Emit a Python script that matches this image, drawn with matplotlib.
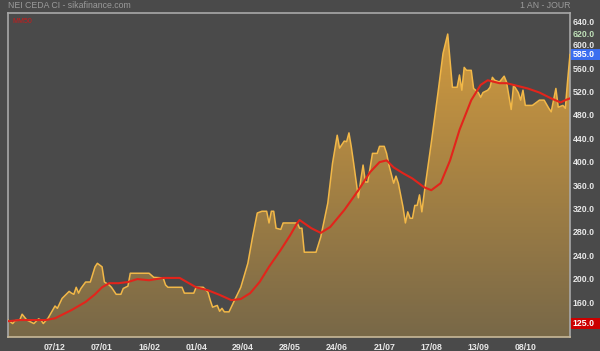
import matplotlib
matplotlib.use("Agg")
import matplotlib.pyplot as plt
from matplotlib.patches import Rectangle
import numpy as np

# price series (day index, value)
px_idx = [0, 2, 3, 5, 6, 8, 11, 13, 14, 15, 17, 20, 21, 23, 26, 27, 28, 29, 30, 31,
          33, 35, 37, 38, 40, 41, 43, 44, 46, 48, 49, 51, 52, 55, 60, 62, 66, 67, 68, 74,
          75, 79, 80, 83, 85, 86, 87, 89, 90, 91, 92, 94, 96, 99, 102, 104, 106, 108, 110, 111,
          112, 113, 114, 116, 117, 123, 124, 125, 126, 131, 133, 136, 138, 140, 141, 143, 144, 145, 146, 147,
          149, 150, 151, 152, 153, 155, 157, 158, 160, 161, 162, 164, 165, 166, 168, 169, 170, 171, 172, 173,
          174, 175, 176, 177, 180, 183, 185, 187, 189, 191, 192, 193, 194, 195, 197, 198, 200, 201, 202, 204,
          205, 206, 207, 209, 211, 212, 214, 215, 217, 218, 219, 220, 223, 226, 228, 230, 231, 233, 234, 236,
          237, 238, 239]
px_val = [131, 125, 130, 131, 141, 131, 125, 133, 131, 125, 134, 155, 151, 168, 180, 177, 175, 187, 177, 185,
          196, 196, 222, 228, 222, 196, 191, 187, 175, 175, 185, 189, 211, 211, 211, 204, 203, 191, 187, 187,
          177, 177, 187, 187, 179, 165, 153, 156, 146, 151, 145, 145, 162, 187, 228, 273, 314, 317, 317, 297,
          317, 317, 288, 286, 297, 297, 288, 288, 247, 247, 273, 331, 399, 447, 425, 437, 436, 451, 427, 399,
          340, 370, 396, 367, 367, 416, 416, 428, 428, 416, 396, 365, 377, 365, 324, 297, 316, 305, 305, 327,
          327, 345, 316, 348, 434, 524, 587, 620, 529, 529, 550, 524, 563, 558, 558, 527, 520, 512, 520, 524,
          529, 546, 541, 538, 548, 538, 491, 533, 520, 507, 524, 498, 498, 507, 507, 493, 487, 527, 495, 498,
          493, 541, 585]

# moving average (MM50)
ma_idx = [0, 5, 16, 20, 27, 33, 37, 40, 43, 47, 51, 55, 60, 66, 73, 80, 85, 90, 95, 99,
          103, 107, 111, 116, 120, 123, 124, 129, 133, 137, 143, 149, 154, 158, 161, 164, 168, 172, 177, 180,
          184, 188, 192, 197, 201, 204, 209, 212, 221, 226, 231, 235, 237, 239]
ma_val = [129, 131, 131, 134, 148, 162, 175, 187, 194, 194, 196, 201, 199, 203, 203, 187, 182, 174, 165, 167,
          177, 196, 222, 251, 276, 297, 302, 288, 280, 290, 319, 353, 384, 401, 404, 392, 382, 373, 358, 353,
          365, 404, 456, 507, 533, 541, 536, 536, 527, 520, 510, 503, 507, 510]

tick_pos = [20, 40, 60, 80, 100, 120, 140, 160, 180, 200, 220]
tick_lab = ["07/12", "07/01", "16/02", "01/04", "29/04", "28/05", "24/06", "21/07", "17/08", "13/09", "08/10"]
y_ticks = [160, 200, 240, 280, 320, 360, 400, 440, 480, 520, 560, 600, 640]

bg = "#4a4a4a"
ymin, ymax = 102, 656
xmin, xmax = 0, 239

fig = plt.figure(figsize=(6, 3.51), dpi=100, facecolor=bg)
ax = fig.add_axes([8/600, 1-337/351, 562/600, 324/351])
ax.set_facecolor(bg)

poly = ax.fill_between(px_idx, px_val, ymin, color="none", lw=0)
top = np.array([214, 157, 62]) / 255
bot = np.array([120, 104, 72]) / 255
t = np.linspace(0, 1, 256)[:, None]
grad = (top * (1 - t) + bot * t)[:, None, :]
im = ax.imshow(grad, extent=[xmin, xmax, ymin, ymax], aspect="auto", origin="upper", zorder=1)
im.set_clip_path(poly.get_paths()[0], transform=ax.transData)

ax.plot(px_idx, px_val, color="#f2b848", lw=1.1, zorder=3)
ax.plot(ma_idx, ma_val, color="#e3241b", lw=1.5, zorder=4)

ax.set_xlim(xmin, xmax)
ax.set_ylim(ymin, ymax)

for s in ["left", "top", "right"]:
    ax.spines[s].set_color("#a8a8a8")
    ax.spines[s].set_linewidth(1.2)
ax.spines["bottom"].set_color("#c8b898")
ax.spines["bottom"].set_linewidth(1.2)

fnt = dict(family="Liberation Sans", weight="bold", size=6.3)
ax.set_xticks(tick_pos)
ax.set_xticklabels(tick_lab, color="#e8e8e8", **fnt)
ax.tick_params(axis="x", length=0, pad=4)
ax.set_yticks([])

ytr = ax.get_yaxis_transform()
for v in y_ticks:
    ax.text(1.005, v, f"{v:.1f}", transform=ytr, color="#e8e8e8", va="center", ha="left", **fnt)
ax.text(1.005, 620, "620.0", transform=ytr, color="#bfe0b8", va="center", ha="left", **fnt)

# highlighted last / min values
for v, fc in [(585, "#3b6ef0"), (125, "#cc0000")]:
    r = Rectangle((1.002, v - 9), 0.06, 18, transform=ytr, facecolor=fc, edgecolor="none",
                  clip_on=False, zorder=5)
    ax.add_patch(r)
    ax.text(1.005, v, f"{v:.1f}", transform=ytr, color="white", va="center", ha="left",
            zorder=6, **fnt)

fig.text(8/600, 1-6/351, "NEI CEDA CI - sikafinance.com", color="#9a9a9a", va="center", ha="left",
         family="Liberation Sans", size=6.3)
fig.text(570/600, 1-6/351, "1 AN - JOUR", color="#9a9a9a", va="center", ha="right",
         family="Liberation Sans", size=6.3)
ax.text(0.008, 0.985, "MM50", transform=ax.transAxes, color="#d01818", va="top", ha="left",
        family="Liberation Sans", size=5)

fig.savefig("out.png", dpi=100, facecolor=bg)
